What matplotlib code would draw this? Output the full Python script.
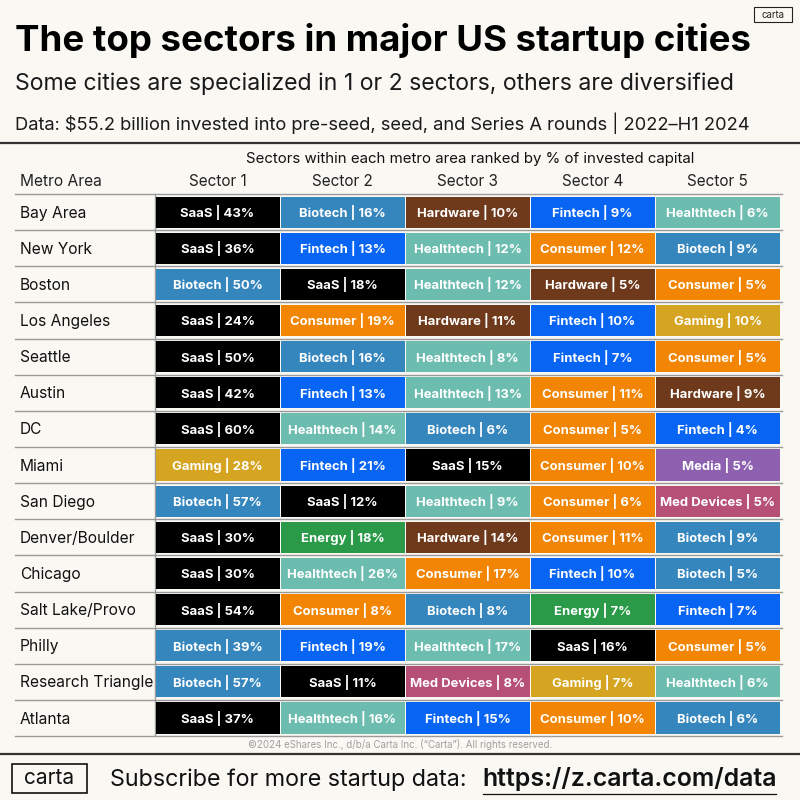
import matplotlib.pyplot as plt
from matplotlib.patches import Rectangle

# ---- data ----
metros = [
    "Bay Area", "New York", "Boston", "Los Angeles", "Seattle", "Austin", "DC",
    "Miami", "San Diego", "Denver/Boulder", "Chicago", "Salt Lake/Provo",
    "Philly", "Research Triangle", "Atlanta",
]
sector_headers = ["Sector 1", "Sector 2", "Sector 3", "Sector 4", "Sector 5"]

sectors = [
    ["SaaS", "Biotech", "Hardware", "Fintech", "Healthtech"],
    ["SaaS", "Fintech", "Healthtech", "Consumer", "Biotech"],
    ["Biotech", "SaaS", "Healthtech", "Hardware", "Consumer"],
    ["SaaS", "Consumer", "Hardware", "Fintech", "Gaming"],
    ["SaaS", "Biotech", "Healthtech", "Fintech", "Consumer"],
    ["SaaS", "Fintech", "Healthtech", "Consumer", "Hardware"],
    ["SaaS", "Healthtech", "Biotech", "Consumer", "Fintech"],
    ["Gaming", "Fintech", "SaaS", "Consumer", "Media"],
    ["Biotech", "SaaS", "Healthtech", "Consumer", "Med Devices"],
    ["SaaS", "Energy", "Hardware", "Consumer", "Biotech"],
    ["SaaS", "Healthtech", "Consumer", "Fintech", "Biotech"],
    ["SaaS", "Consumer", "Biotech", "Energy", "Fintech"],
    ["Biotech", "Fintech", "Healthtech", "SaaS", "Consumer"],
    ["Biotech", "SaaS", "Med Devices", "Gaming", "Healthtech"],
    ["SaaS", "Healthtech", "Fintech", "Consumer", "Biotech"],
]
shares = [
    [43, 16, 10, 9, 6],
    [36, 13, 12, 12, 9],
    [50, 18, 12, 5, 5],
    [24, 19, 11, 10, 10],
    [50, 16, 8, 7, 5],
    [42, 13, 13, 11, 9],
    [60, 14, 6, 5, 4],
    [28, 21, 15, 10, 5],
    [57, 12, 9, 6, 5],
    [30, 18, 14, 11, 9],
    [30, 26, 17, 10, 5],
    [54, 8, 8, 7, 7],
    [39, 19, 17, 16, 5],
    [57, 11, 8, 7, 6],
    [37, 16, 15, 10, 6],
]

sector_colors = {
    "SaaS": "#000000",
    "Biotech": "#3686BE",
    "Hardware": "#6E3A1B",
    "Fintech": "#0865F4",
    "Healthtech": "#6CBDB0",
    "Consumer": "#F28503",
    "Gaming": "#D5A521",
    "Energy": "#2A9A48",
    "Media": "#8E60B0",
    "Med Devices": "#B65076",
}

BG = "#FAF8F3"
FONT = ["Inter", "DejaVu Sans"]

fig = plt.figure(figsize=(8, 8), dpi=100, facecolor=BG)
ax = fig.add_axes([0, 0, 1, 1])
ax.set_xlim(0, 800)
ax.set_ylim(800, 0)
ax.axis("off")
ax.set_facecolor(BG)

# ---- titles ----
ax.text(15, 40, "The top sectors in major US startup cities", fontsize=26.4,
        fontweight="bold", family=FONT, va="center", ha="left", color="#000")
ax.text(15, 84, "Some cities are specialized in 1 or 2 sectors, others are diversified",
        fontsize=16.6, family=FONT, va="center", ha="left", color="#1a1a1a")
ax.text(15, 123, "Data: $55.2 billion invested into pre-seed, seed, and Series A rounds | 2022\u2013H1 2024",
        fontsize=13.2, family=FONT, va="center", ha="left", color="#1a1a1a")

# small carta tag
ax.add_patch(Rectangle((754, 7), 38, 15, fill=False, edgecolor="#222", lw=0.8))
ax.text(773, 14.5, "carta", fontsize=7, family=FONT, ha="center", va="center", color="#222")

ax.plot([0, 800], [143, 143], color="#333", lw=1.6)

# ---- table header ----
x0 = 155
col_w = 125
row_top = 194
row_h = 36.14

ax.text(470, 159, "Sectors within each metro area ranked by % of invested capital",
        fontsize=10.8, family=FONT, ha="center", va="center", color="#111")
ax.text(20, 182, "Metro Area", fontsize=11.2, family=FONT, ha="left", va="center", color="#222")
for j, h in enumerate(sector_headers):
    ax.text(x0 + col_w * (j + 0.5), 182, h, fontsize=11, family=FONT,
            ha="center", va="center", color="#222")

# ---- rows ----
for i, metro in enumerate(metros):
    top = row_top + i * row_h
    ax.plot([15, 782], [top, top], color="#9a9a9a", lw=1.0, zorder=1)
    ax.text(20, top + row_h / 2 + 1, metro, fontsize=11.2, family=FONT,
            ha="left", va="center", color="#111")
    for j in range(5):
        name = sectors[i][j]
        ax.add_patch(Rectangle((x0 + j * col_w + 0.5, top + 2.5), col_w - 1, row_h - 5,
                               facecolor=sector_colors[name], edgecolor="none", zorder=2))
        ax.text(x0 + col_w * (j + 0.5), top + row_h / 2 + 0.5, f"{name} | {shares[i][j]}%",
                fontsize=9.4, fontweight="bold", family=FONT, ha="center", va="center",
                color="white", zorder=3)
bottom = row_top + len(metros) * row_h
ax.plot([15, 782], [bottom, bottom], color="#9a9a9a", lw=1.0, zorder=1)
ax.plot([x0, x0], [row_top, bottom], color="#9a9a9a", lw=1.0, zorder=1)

# ---- footer ----
ax.text(400, 745, "\u00a92024 eShares Inc., d/b/a Carta Inc. (\u201cCarta\u201d). All rights reserved.",
        fontsize=7, family=FONT, ha="center", va="center", color="#a0a0a0")
ax.plot([0, 800], [754, 754], color="#333", lw=1.6)

ax.add_patch(Rectangle((12, 764), 75, 29, fill=False, edgecolor="#111", lw=1.2))
ax.text(49.5, 778, "carta", fontsize=15, family=FONT, ha="center", va="center", color="#111")
ax.text(110, 780, "Subscribe for more startup data:", fontsize=16.8, family=FONT,
        ha="left", va="center", color="#111")
ax.text(482, 779, "https://z.carta.com/data", fontsize=17.9, family=FONT, fontweight="semibold",
        ha="left", va="center", color="#111")
ax.plot([483, 776], [794, 794], color="#111", lw=0.9)

fig.savefig("out.png", dpi=100, facecolor=BG)
